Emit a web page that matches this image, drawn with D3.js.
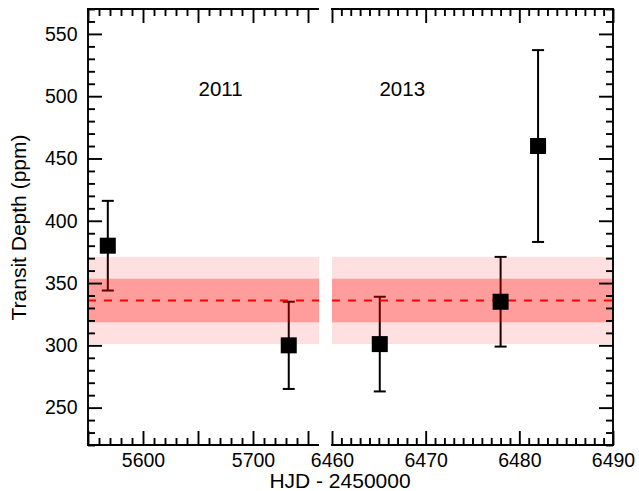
<!DOCTYPE html>
<html>
<head>
<meta charset="utf-8">
<script src="https://cdn.jsdelivr.net/npm/d3@7"></script>
<style>
  html, body { margin: 0; padding: 0; background: #fff; }
  svg { display: block; font-family: "Liberation Sans", Arial, Helvetica, sans-serif; }
</style>
</head>
<body>
<svg id="chart" width="639" height="491"></svg>
<script>
// ---- data ----
const epoch2011 = [5568, 5732.5];
const depth2011 = [380, 300];
const err2011 = [36, 35];

const epoch2013 = [6465.1, 6478, 6482];
const depth2013 = [301, 335, 460];
const err2013 = [38, 36, 77];

const meanDepth = 336;
const band1Sigma = 17.5;
const band2Sigma = 35;

const yearLabels = ["2011", "2013"];
const yearLabelX = [5670.5, 6467.5];
const yearLabelY = 500;

const leftMajorTicks = [5550, 5600, 5650, 5700, 5750];
const leftTickLabels = [5600, 5700];
const rightMajorTicks = [6460, 6470, 6480, 6490];
const yMajorTicks = [250, 300, 350, 400, 450, 500, 550];

const xTitle = "HJD - 2450000";
const yTitle = "Transit Depth (ppm)";

// ---- layout ----
const svg = d3.select("#chart");
const plotTop = 9, plotBottom = 445;
const leftPanel = { x0: 88, x1: 319 };
const rightPanel = { x0: 332, x1: 613 };

const y = d3.scaleLinear().domain([220, 570]).range([plotBottom, plotTop]);
const xL = d3.scaleLinear().domain([5550, 5760]).range([leftPanel.x0, leftPanel.x1]);
const xR = d3.scaleLinear().domain([6460, 6490]).range([rightPanel.x0, rightPanel.x1]);

const tickFont = "19.5px";
const majorLen = 14, minorLen = 7;
const lw = 1.9;

function rng(a, b, step) { const r = []; for (let v = a; v <= b + 1e-9; v += step) r.push(+v.toFixed(6)); return r; }

const yMinor = rng(220, 570, 10).filter(v => !yMajorTicks.includes(v));
const leftMinor = rng(5550, 5750, 10).filter(v => !leftMajorTicks.includes(v));
const rightMinor = rng(6460, 6490, 1).filter(v => !rightMajorTicks.includes(v));

// ---- panels: error bars, bands, mean line, markers ----
function drawPanel(x, xs, ys, es) {
  const g = svg.append("g");
  const [x0, x1] = x.range();
  const pts = xs.map((d, i) => ({ x: d, y: ys[i], e: es[i] }));
  const eb = g.selectAll("g.eb").data(pts).join("g").attr("class", "eb")
    .attr("stroke", "#000").attr("stroke-width", 2);
  eb.append("line").attr("x1", d => x(d.x)).attr("x2", d => x(d.x))
    .attr("y1", d => y(d.y - d.e)).attr("y2", d => y(d.y + d.e));
  eb.append("line").attr("x1", d => x(d.x) - 6).attr("x2", d => x(d.x) + 6)
    .attr("y1", d => y(d.y + d.e)).attr("y2", d => y(d.y + d.e));
  eb.append("line").attr("x1", d => x(d.x) - 6).attr("x2", d => x(d.x) + 6)
    .attr("y1", d => y(d.y - d.e)).attr("y2", d => y(d.y - d.e));
  g.append("rect")
    .attr("x", x0).attr("width", x1 - x0)
    .attr("y", y(meanDepth + band2Sigma))
    .attr("height", y(meanDepth - band2Sigma) - y(meanDepth + band2Sigma))
    .attr("fill", "rgba(255,0,0,0.12)");
  g.append("rect")
    .attr("x", x0).attr("width", x1 - x0)
    .attr("y", y(meanDepth + band1Sigma))
    .attr("height", y(meanDepth - band1Sigma) - y(meanDepth + band1Sigma))
    .attr("fill", "rgba(255,0,0,0.30)");
  g.append("line")
    .attr("x1", x0).attr("x2", x1)
    .attr("y1", y(meanDepth)).attr("y2", y(meanDepth))
    .attr("stroke", "#ff0000").attr("stroke-width", 2)
    .attr("stroke-dasharray", "8,8");
  g.selectAll("rect.pt").data(pts).join("rect").attr("class", "pt")
    .attr("x", d => x(d.x) - 8).attr("y", d => y(d.y) - 8)
    .attr("width", 16).attr("height", 16).attr("fill", "#000");
}
drawPanel(xL, epoch2011, depth2011, err2011);
drawPanel(xR, epoch2013, depth2013, err2013);

// ---- axes ----
function styleAxis(sel) {
  sel.select(".domain").remove();
  sel.selectAll(".tick line").attr("stroke", "#000").attr("stroke-width", lw);
  sel.selectAll(".tick text").attr("fill", "#000").style("font-size", tickFont)
    .style("font-family", "'Liberation Sans', Arial, Helvetica, sans-serif");
}
function axisPair(x, major, minor, fmt) {
  svg.append("g").attr("transform", `translate(0,${plotBottom})`)
    .call(d3.axisBottom(x).tickValues(major).tickSize(-majorLen).tickPadding(8).tickFormat(fmt))
    .call(styleAxis);
  svg.append("g").attr("transform", `translate(0,${plotBottom})`)
    .call(d3.axisBottom(x).tickValues(minor).tickSize(-minorLen).tickFormat(""))
    .call(styleAxis);
  svg.append("g").attr("transform", `translate(0,${plotTop})`)
    .call(d3.axisTop(x).tickValues(major).tickSize(-majorLen).tickFormat(""))
    .call(styleAxis);
  svg.append("g").attr("transform", `translate(0,${plotTop})`)
    .call(d3.axisTop(x).tickValues(minor).tickSize(-minorLen).tickFormat(""))
    .call(styleAxis);
  const [x0, x1] = x.range();
  svg.append("line").attr("x1", x0 - lw / 2).attr("x2", x1).attr("y1", plotBottom).attr("y2", plotBottom)
    .attr("stroke", "#000").attr("stroke-width", lw);
  svg.append("line").attr("x1", x0 - lw / 2).attr("x2", x1).attr("y1", plotTop).attr("y2", plotTop)
    .attr("stroke", "#000").attr("stroke-width", lw);
}
axisPair(xL, leftMajorTicks, leftMinor, d => leftTickLabels.includes(d) ? d : "");
axisPair(xR, rightMajorTicks, rightMinor, d => d);

svg.append("g").attr("transform", `translate(${leftPanel.x0},0)`)
  .call(d3.axisLeft(y).tickValues(yMajorTicks).tickSize(-majorLen).tickPadding(10.5).tickFormat(d => d))
  .call(styleAxis);
svg.append("g").attr("transform", `translate(${leftPanel.x0},0)`)
  .call(d3.axisLeft(y).tickValues(yMinor).tickSize(-minorLen).tickFormat(""))
  .call(styleAxis);
svg.append("line").attr("x1", leftPanel.x0).attr("x2", leftPanel.x0)
  .attr("y1", plotTop - lw / 2).attr("y2", plotBottom + lw / 2)
  .attr("stroke", "#000").attr("stroke-width", lw);
svg.append("g").attr("transform", `translate(${rightPanel.x1},0)`)
  .call(d3.axisRight(y).tickValues(yMajorTicks).tickSize(-majorLen).tickFormat(""))
  .call(styleAxis);
svg.append("g").attr("transform", `translate(${rightPanel.x1},0)`)
  .call(d3.axisRight(y).tickValues(yMinor).tickSize(-minorLen).tickFormat(""))
  .call(styleAxis);
svg.append("line").attr("x1", rightPanel.x1).attr("x2", rightPanel.x1)
  .attr("y1", plotTop - lw / 2).attr("y2", plotBottom + lw / 2)
  .attr("stroke", "#000").attr("stroke-width", lw);

// ---- year labels ----
svg.append("text").attr("x", xL(yearLabelX[0])).attr("y", y(yearLabelY))
  .attr("text-anchor", "middle").style("font-size", "20.5px").attr("fill", "#000")
  .text(yearLabels[0]);
svg.append("text").attr("x", xR(yearLabelX[1])).attr("y", y(yearLabelY))
  .attr("text-anchor", "middle").style("font-size", "20.5px").attr("fill", "#000")
  .text(yearLabels[1]);

// ---- axis titles ----
svg.append("text").attr("x", 340).attr("y", 488)
  .attr("text-anchor", "middle").style("font-size", "21px").attr("fill", "#000")
  .text(xTitle);
svg.append("text").attr("transform", "translate(26,227.5) rotate(-90)")
  .attr("text-anchor", "middle").style("font-size", "21px").attr("fill", "#000")
  .text(yTitle);
</script>
</body>
</html>
